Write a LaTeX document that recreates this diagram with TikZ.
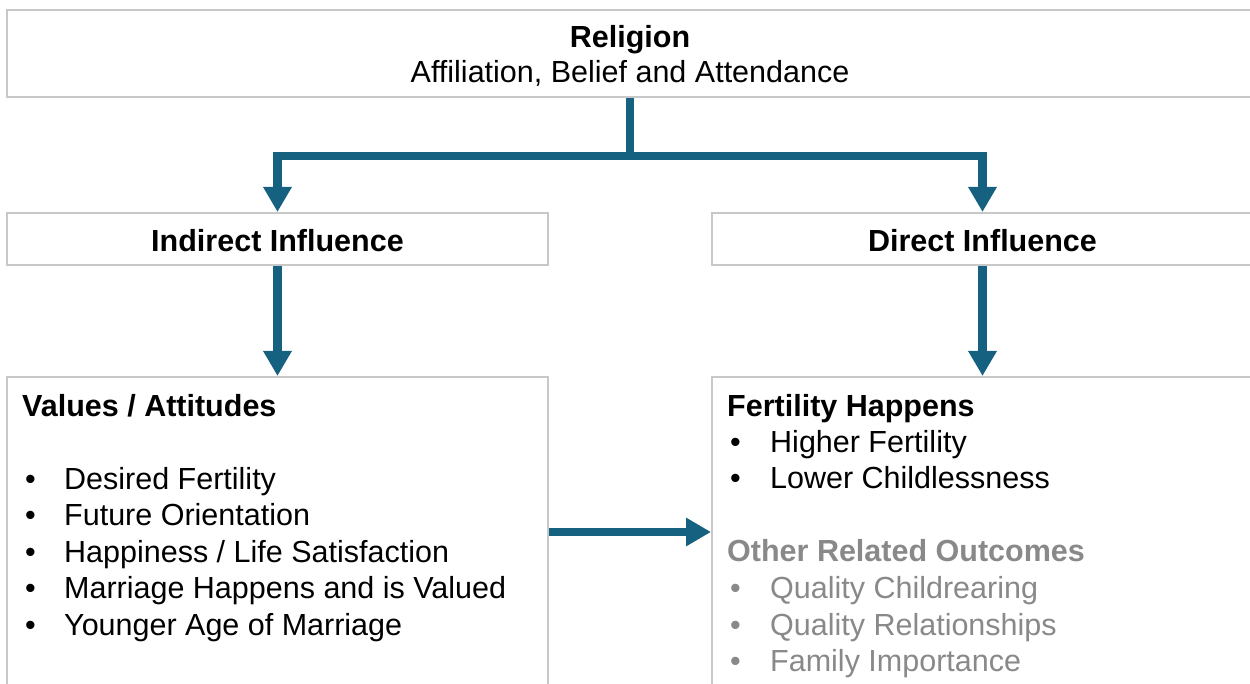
\documentclass[tikz,border=0pt]{standalone}
\usepackage{fontspec}
\setmainfont{Liberation Sans}
\usetikzlibrary{arrows.meta}
\definecolor{arrowc}{RGB}{22,96,128}
\definecolor{boxc}{RGB}{200,200,200}
\definecolor{graytxt}{RGB}{137,137,137}
\begin{document}
\begin{tikzpicture}[x=1pt,y=-1pt,
  box/.style={draw=boxc,line width=2pt,inner sep=0pt,fill=white},
  conn/.style={draw=arrowc,line width=8.5pt},
  arr/.style={conn,-{Triangle[width=27pt,length=25pt]}},
  txt/.style={inner sep=0pt,font=\fontsize{30.5}{36.5}\selectfont},
  hd/.style={inner sep=0pt,font=\fontsize{30.5}{36.5}\selectfont\bfseries}]
\useasboundingbox (0,0) rectangle (1250,684);
\clip (0,0) rectangle (1250,684);
% boxes
\node[box,minimum width=1246pt,minimum height=87pt] (top) at (630,53.5) {};
\node[box,minimum width=541pt,minimum height=52pt] (ind) at (277.5,239) {};
\node[box,minimum width=541pt,minimum height=52pt] (dir) at (982.5,239) {};
\node[box,minimum width=541pt,minimum height=343pt] (val) at (277.5,548.5) {};
\node[box,minimum width=541pt,minimum height=343pt] (fert) at (982.5,548.5) {};
% texts
\node[hd,anchor=base] (rel) at (630,48) {Religion};
\node[txt,anchor=base] (aff) at (630,83) {Affiliation, Belief and Attendance};
\node[hd,anchor=base] (indt) at (277.5,252) {Indirect Influence};
\node[hd,anchor=base] (dirt) at (982.5,252) {Direct Influence};
\node[hd,anchor=base west] (valt) at (22,416) {Values / Attitudes};
\foreach \t [count=\i] in {Desired Fertility, Future Orientation, Happiness / Life Satisfaction, Marriage Happens and is Valued, Younger Age of Marriage} {
  \node[txt,anchor=base west] (vb\i) at (25,{489+36.5*(\i-1)}) {•};
  \node[txt,anchor=base west] (vt\i) at (64,{489+36.5*(\i-1)}) {\t};
}
\node[hd,anchor=base west] (fertt) at (727,416) {Fertility Happens};
\foreach \t [count=\i] in {Higher Fertility, Lower Childlessness} {
  \node[txt,anchor=base west] (fb\i) at (730,{452+36.5*(\i-1)}) {•};
  \node[txt,anchor=base west] (ft\i) at (770,{452+36.5*(\i-1)}) {\t};
}
\node[hd,anchor=base west,text=graytxt] (otht) at (727,561) {Other Related Outcomes};
\foreach \t [count=\i] in {Quality Childrearing, Quality Relationships, Family Importance} {
  \node[txt,anchor=base west,text=graytxt] (ob\i) at (730,{598.5+36.5*(\i-1)}) {•};
  \node[txt,anchor=base west,text=graytxt] (ot\i) at (770,{598.5+36.5*(\i-1)}) {\t};
}
% connectors
\coordinate (j) at (630,156);
\coordinate (hy) at (0,532);
\draw[conn] (top.south) -- (j);
\draw[arr] (j) -| (ind.north);
\draw[arr] (j) -| (dir.north);
\draw[arr] (ind.south) -- (val.north);
\draw[arr] (dir.south) -- (fert.north);
\draw[arr] (val.east |- hy) -- (fert.west |- hy);
\end{tikzpicture}
\end{document}
